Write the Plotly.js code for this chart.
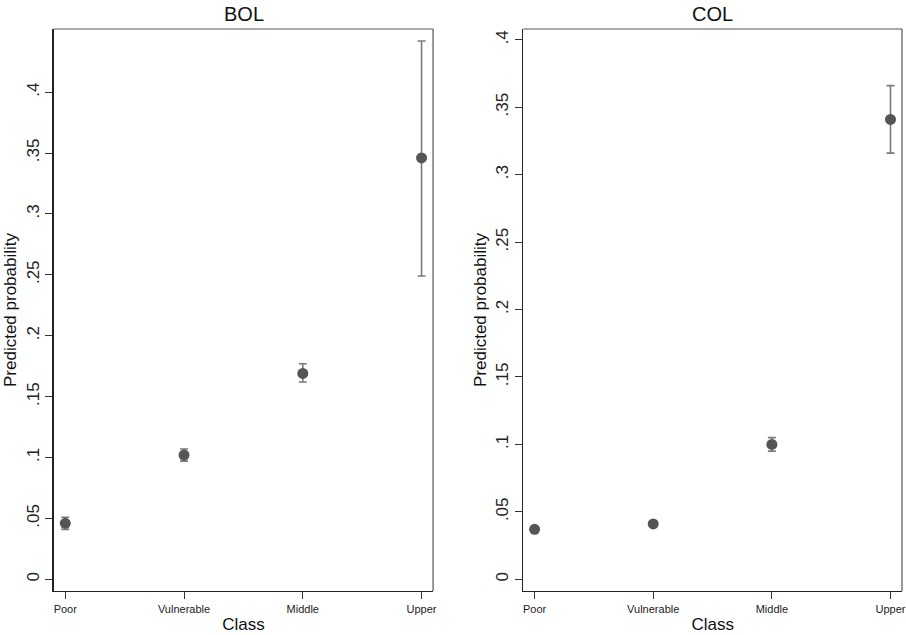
<!DOCTYPE html>
<html>
<head>
<meta charset="utf-8">
<script src="https://cdn.plot.ly/plotly-3.0.1.min.js"></script>
<style>html,body{margin:0;padding:0;background:#fff;}#chart{width:906px;height:635px;}</style>
</head>
<body>
<div id="chart"></div>
<script>
var classes = ["Poor", "Vulnerable", "Middle", "Upper"];
var bolMean  = [0.046, 0.102, 0.169, 0.346];
var bolLower = [0.041, 0.097, 0.162, 0.249];
var bolUpper = [0.051, 0.107, 0.177, 0.442];
var colMean  = [0.037, 0.041, 0.100, 0.341];
var colLower = [0.035, 0.040, 0.095, 0.316];
var colUpper = [0.039, 0.043, 0.105, 0.366];
var yTickVals = [0, 0.05, 0.1, 0.15, 0.2, 0.25, 0.3, 0.35, 0.4];
var yTickText = ["0", ".05", ".1", ".15", ".2", ".25", ".3", ".35", ".4"];
var panelTitles = ["BOL", "COL"];

var FONT = "Arial, 'Liberation Sans', sans-serif";

function trace(mean, lo, hi, xa, ya) {
  return {
    type: "scatter", mode: "markers",
    x: [0, 1, 2, 3], y: mean, xaxis: xa, yaxis: ya,
    marker: {color: "#555555", size: 11},
    error_y: {
      type: "data", symmetric: false,
      array: mean.map(function (m, i) { return hi[i] - m; }),
      arrayminus: mean.map(function (m, i) { return m - lo[i]; }),
      color: "#7a7a7a", thickness: 1.6, width: 4
    },
    hoverinfo: "y", showlegend: false
  };
}

function xaxis(domain, anchor) {
  return {
    domain: domain, anchor: anchor, range: [-0.095, 3.097],
    tickmode: "array", tickvals: [0, 1, 2, 3], ticktext: classes,
    ticks: "outside", ticklen: 7, tickcolor: "#333", tickwidth: 1,
    showgrid: false, zeroline: false,
    showline: true, linecolor: "#222", linewidth: 1.5,
    tickfont: {family: FONT, size: 11, color: "#222"},
    title: {text: "Class", font: {family: FONT, size: 17, color: "#111"}, standoff: 4}
  };
}
function yaxis(domain, anchor, range) {
  return {
    domain: domain, anchor: anchor, range: range,
    tickmode: "array", tickvals: yTickVals, ticktext: yTickText,
    tickangle: -90,
    ticks: "outside", ticklen: 7, tickcolor: "#333", tickwidth: 1,
    showgrid: false, zeroline: false,
    showline: true, linecolor: "#222", linewidth: 1.5,
    tickfont: {family: FONT, size: 17, color: "#222"},
    title: {text: "Predicted probability", font: {family: FONT, size: 17, color: "#111"}, standoff: 2}
  };
}

var yd = [0.0693, 0.9543];
var layout = {
  width: 906, height: 635,
  margin: {l: 0, r: 0, t: 0, b: 0},
  paper_bgcolor: "#fff", plot_bgcolor: "#fff",
  font: {family: FONT},
  xaxis: xaxis([0.0596, 0.478], "y"),
  yaxis: yaxis(yd, "x", [-0.0096, 0.4518]),
  xaxis2: xaxis([0.5776, 0.9956], "y2"),
  yaxis2: yaxis(yd, "x2", [-0.0087, 0.408]),
  shapes: [
    {type: "line", xref: "paper", yref: "paper", x0: 0.0596, x1: 0.478, y0: yd[1], y1: yd[1], line: {color: "#555", width: 1.2}},
    {type: "line", xref: "paper", yref: "paper", x0: 0.478, x1: 0.478, y0: yd[0], y1: yd[1], line: {color: "#555", width: 1.2}},
    {type: "line", xref: "paper", yref: "paper", x0: 0.5776, x1: 0.9956, y0: yd[1], y1: yd[1], line: {color: "#555", width: 1.2}},
    {type: "line", xref: "paper", yref: "paper", x0: 0.9956, x1: 0.9956, y0: yd[0], y1: yd[1], line: {color: "#555", width: 1.2}}
  ],
  annotations: [
    {text: panelTitles[0], xref: "paper", yref: "paper", x: 0.2688, y: 0.978, xanchor: "center", yanchor: "middle", showarrow: false, font: {family: FONT, size: 20, color: "#111"}},
    {text: panelTitles[1], xref: "paper", yref: "paper", x: 0.7866, y: 0.978, xanchor: "center", yanchor: "middle", showarrow: false, font: {family: FONT, size: 20, color: "#111"}}
  ]
};

Plotly.newPlot("chart", [
  trace(bolMean, bolLower, bolUpper, "x", "y"),
  trace(colMean, colLower, colUpper, "x2", "y2")
], layout, {displayModeBar: false, staticPlot: true});
</script>
</body>
</html>
